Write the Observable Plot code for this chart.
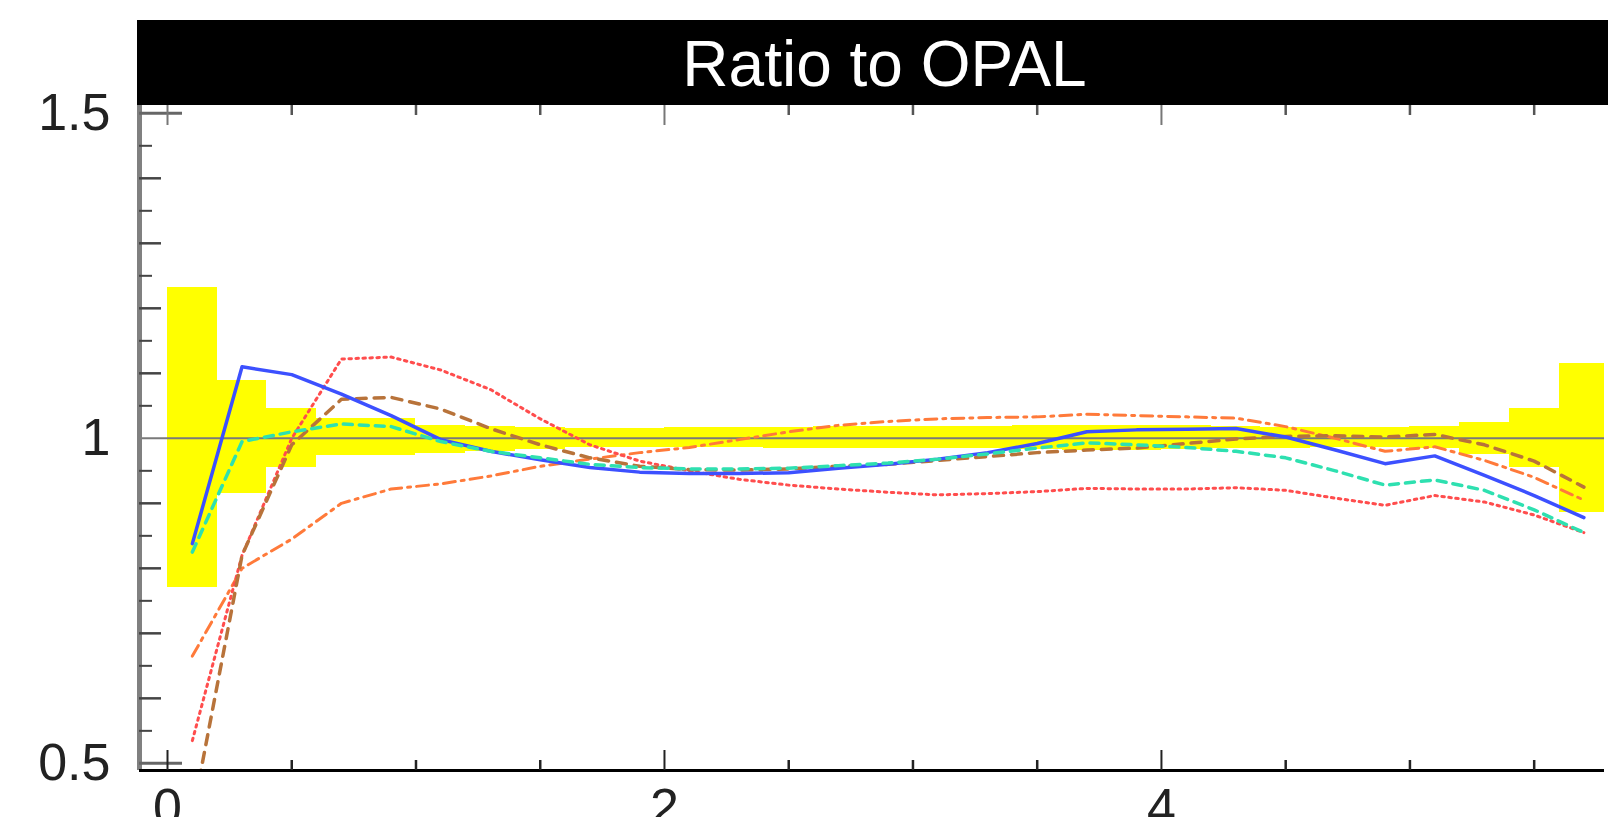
<!DOCTYPE html>
<html><head><meta charset="utf-8">
<script src="https://cdn.jsdelivr.net/npm/d3@7"></script>
<script src="https://cdn.jsdelivr.net/npm/@observablehq/plot@0.6"></script>
<style>
body{margin:0;background:#fff;font-family:"Liberation Sans",Arial,sans-serif;overflow:hidden;}
#title{margin:20px 0 0 137px;width:1471px;height:85px;background:#000;color:#fff;font-size:64px;line-height:85px;text-align:center;}
#title span{position:relative;top:2px;left:12px;}
</style></head><body>
<div id="title"><span>Ratio to OPAL</span></div>
<div id="chart"></div>
<script>
// bin edges of the yellow error band
const binStart = [0,0.2,0.4,0.6,0.8,1.0,1.2,1.4,1.6,1.8,2.0,2.2,2.4,2.6,2.8,3.0,3.2,3.4,3.6,3.8,4.0,4.2,4.4,4.6,4.8,5.0,5.2,5.4,5.6];
const binEnd   = [0.2,0.4,0.6,0.8,1.0,1.2,1.4,1.6,1.8,2.0,2.2,2.4,2.6,2.8,3.0,3.2,3.4,3.6,3.8,4.0,4.2,4.4,4.6,4.8,5.0,5.2,5.4,5.6,5.8];
const bandUpper = [1.232,1.089,1.046,1.030,1.030,1.020,1.018,1.017,1.015,1.015,1.016,1.016,1.017,1.018,1.018,1.018,1.018,1.019,1.020,1.020,1.019,1.018,1.017,1.016,1.016,1.018,1.025,1.046,1.115];
const bandLower = [0.771,0.915,0.955,0.974,0.974,0.976,0.980,0.983,0.986,0.986,0.986,0.986,0.985,0.985,0.984,0.984,0.984,0.983,0.982,0.982,0.983,0.984,0.985,0.986,0.986,0.985,0.975,0.955,0.886];

// curve sample points
const xCenters = [0.1,0.3,0.5,0.7,0.9,1.1,1.3,1.5,1.7,1.9,2.1,2.3,2.5,2.7,2.9,3.1,3.3,3.5,3.7,3.9,4.1,4.3,4.5,4.7,4.9,5.1,5.3,5.5,5.7];
const blueSolid   = [0.838,1.110,1.098,1.068,1.035,0.998,0.980,0.967,0.955,0.948,0.946,0.946,0.947,0.954,0.960,0.968,0.978,0.992,1.010,1.013,1.014,1.015,1.002,0.982,0.961,0.973,0.943,0.912,0.878];
const greenDashed = [0.825,0.995,1.010,1.022,1.018,0.995,0.980,0.970,0.960,0.955,0.953,0.953,0.954,0.958,0.962,0.968,0.976,0.985,0.993,0.990,0.986,0.980,0.970,0.950,0.928,0.936,0.920,0.890,0.855];
const brownDashed = [0.420,0.820,0.990,1.060,1.063,1.045,1.015,0.990,0.970,0.957,0.952,0.951,0.953,0.957,0.960,0.966,0.972,0.978,0.982,0.985,0.992,0.999,1.003,1.004,1.002,1.006,0.990,0.965,0.925];
const redDotted   = [0.535,0.820,1.000,1.122,1.125,1.105,1.075,1.030,0.990,0.965,0.950,0.937,0.928,0.922,0.917,0.913,0.915,0.918,0.923,0.922,0.922,0.924,0.920,0.908,0.897,0.912,0.902,0.882,0.855];
const orangeDashDot = [0.665,0.800,0.845,0.900,0.922,0.930,0.942,0.957,0.968,0.978,0.986,0.998,1.010,1.020,1.026,1.030,1.032,1.033,1.037,1.035,1.033,1.031,1.018,1.000,0.980,0.987,0.966,0.940,0.905];

// axis ticks
const xDomain = [-0.1127, 5.783];
const yDomain = [0.489, 1.512];
const xLabelTicks = [0, 2, 4];
const xMinorTicks = [0.5,1,1.5,2.5,3,3.5,4.5,5,5.5];
const yLabelTicks = [0.5, 1, 1.5];
const yLongTicks = [0.5, 1.5];
const yMidTicks = [0.6,0.7,0.8,0.9,1.1,1.2,1.3,1.4];
const yMinorTicks = [0.55,0.65,0.75,0.85,0.95,1.05,1.15,1.25,1.35,1.45];

const W = 1608, H = 712, mL = 139, mR = 4, mT = 0, mB = 47;
const innerW = W - mL - mR, innerH = H - mT - mB;

const band = binStart.map((s, i) => ({x1: s, x2: binEnd[i], lo: bandLower[i], hi: bandUpper[i]}));
const series = (ys) => xCenters.map((x, i) => ({x, y: ys[i]}));

const chart = Plot.plot({
  width: W, height: H,
  marginLeft: mL, marginRight: mR, marginTop: mT, marginBottom: mB,
  style: {overflow: "visible", fontFamily: "'Liberation Sans', Arial, sans-serif", background: "transparent"},
  x: {domain: xDomain},
  y: {domain: yDomain},
  marks: [
    Plot.rect(band, {x1: "x1", x2: "x2", y1: "lo", y2: "hi", fill: "#ffff00", clip: true, shapeRendering: "crispEdges"}),
    Plot.ruleY([1], {stroke: "#7a7a7a", strokeWidth: 2}),
    Plot.line(series(orangeDashDot), {x: "x", y: "y", stroke: "#ff7a3a", strokeWidth: 3, strokeDasharray: "12,6,3,6", clip: true}),
    Plot.line(series(redDotted), {x: "x", y: "y", stroke: "#ff4d4d", strokeWidth: 3, strokeDasharray: "2.5,4.5", clip: true}),
    Plot.line(series(brownDashed), {x: "x", y: "y", stroke: "#b8733a", strokeWidth: 3.5, strokeDasharray: "10,8", clip: true}),
    Plot.line(series(blueSolid), {x: "x", y: "y", stroke: "#3c50ff", strokeWidth: 3.5, clip: true}),
    Plot.line(series(greenDashed), {x: "x", y: "y", stroke: "#2ee0b0", strokeWidth: 3.5, strokeDasharray: "9,7", clip: true}),
    // frame lines
    Plot.ruleX([xDomain[0]], {stroke: "#808080", strokeWidth: 5}),
    Plot.ruleY([yDomain[0]], {stroke: "#000", strokeWidth: 3}),
    // left ticks (inward)
    Plot.tickY(yLongTicks, {y: d => d, insetRight: innerW - 43, stroke: "#666", strokeWidth: 3}),
    Plot.tickY(yMidTicks, {y: d => d, insetRight: innerW - 22, stroke: "#444", strokeWidth: 2.5}),
    Plot.tickY(yMinorTicks, {y: d => d, insetRight: innerW - 13, stroke: "#444", strokeWidth: 2}),
    // bottom ticks (inward)
    Plot.tickX(xLabelTicks, {x: d => d, insetTop: innerH - 20, stroke: "#222", strokeWidth: 2}),
    Plot.tickX(xMinorTicks, {x: d => d, insetTop: innerH - 10, stroke: "#222", strokeWidth: 2.5}),
    // top ticks (inward)
    Plot.tickX(xLabelTicks, {x: d => d, insetBottom: innerH - 20, stroke: "#777", strokeWidth: 2}),
    Plot.tickX(xMinorTicks, {x: d => d, insetBottom: innerH - 10, stroke: "#555", strokeWidth: 2.5}),
    // labels
    Plot.axisY({ticks: yLabelTicks, tickSize: 0, tickPadding: 29, fontSize: 52, fill: "#222", tickFormat: d => String(d), label: null}),
    Plot.axisX({ticks: xLabelTicks, tickSize: 0, tickPadding: 18, fontSize: 52, fill: "#222", tickFormat: d => String(d), label: null})
  ]
});
document.getElementById("chart").appendChild(chart);
</script>
</body></html>
